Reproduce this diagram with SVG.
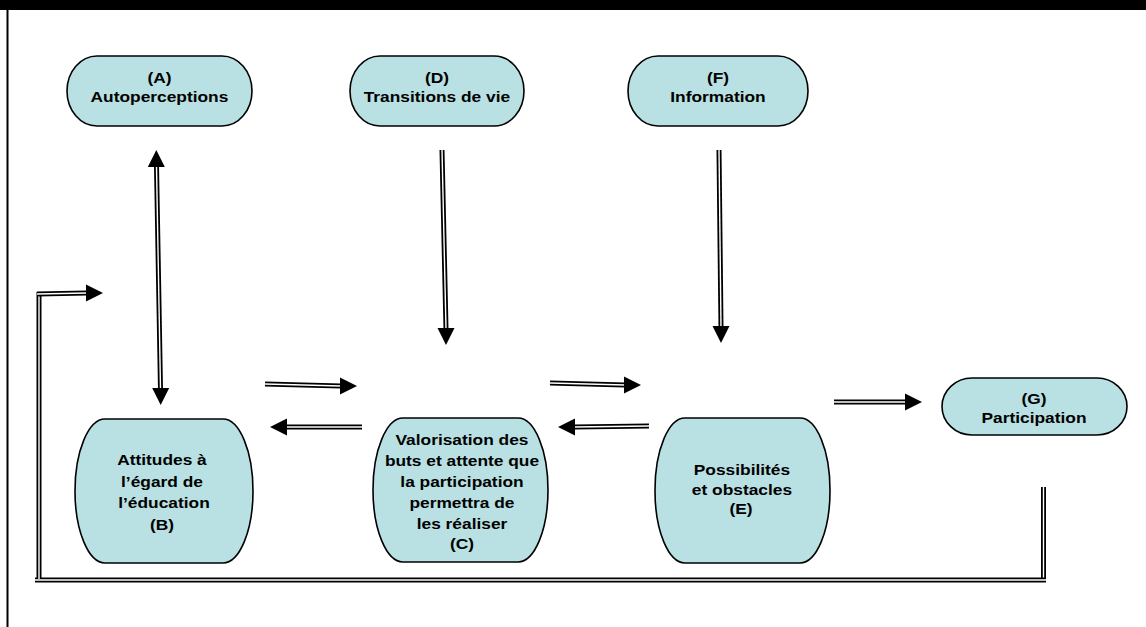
<svg xmlns="http://www.w3.org/2000/svg" xmlns:xlink="http://www.w3.org/1999/xlink" width="1146" height="627" viewBox="0 0 1146 627">
<style>
  .node { fill: #b9e0e3; stroke: #000; stroke-width: 1.6; }
  .t { font-family: "Liberation Sans", Arial, sans-serif; font-weight: bold; font-size: 14px; fill: #000; text-anchor: middle; transform-box: fill-box; transform-origin: center; transform: scaleX(1.24); }
  .outer { fill: none; stroke: #000; stroke-width: 5; }
  .inner { fill: none; stroke: #fff; stroke-width: 1.4; }
</style>
<defs>
  <path id="ah" d="M0,0 L-17,-8.5 L-17,8.5 Z" fill="#000"/>
</defs>
<rect x="0" y="0" width="1146" height="627" fill="#fff"/>
<rect id="topbar" x="0" y="0" width="1146" height="10" fill="#000"/>
<line x1="7.5" y1="10" x2="7.5" y2="627" stroke="#000" stroke-width="2"/>

<g id="connectors">
  <!-- A <-> B -->
  <line class="outer" x1="156.5" y1="166" x2="160.5" y2="389"/>
  <line class="inner" x1="156.5" y1="166" x2="160.5" y2="389"/>
  <use xlink:href="#ah" transform="translate(156.3,150) rotate(-90)"/>
  <use xlink:href="#ah" transform="translate(160.7,405) rotate(90)"/>
  <!-- D -> C -->
  <line class="outer" x1="442" y1="150" x2="446" y2="329"/>
  <line class="inner" x1="442" y1="150" x2="446" y2="329"/>
  <use xlink:href="#ah" transform="translate(446,345) rotate(90)"/>
  <!-- F -> E -->
  <line class="outer" x1="719" y1="150" x2="721" y2="327"/>
  <line class="inner" x1="719" y1="150" x2="721" y2="327"/>
  <use xlink:href="#ah" transform="translate(721,343) rotate(90)"/>
  <!-- B -> C -->
  <line class="outer" x1="265" y1="384" x2="341" y2="386"/>
  <line class="inner" x1="265" y1="384" x2="341" y2="386"/>
  <use xlink:href="#ah" transform="translate(357,386)"/>
  <!-- C -> B -->
  <line class="outer" x1="362" y1="427" x2="286" y2="427"/>
  <line class="inner" x1="362" y1="427" x2="286" y2="427"/>
  <use xlink:href="#ah" transform="translate(270,427) rotate(180)"/>
  <!-- C -> E -->
  <line class="outer" x1="550" y1="383" x2="625" y2="385"/>
  <line class="inner" x1="550" y1="383" x2="625" y2="385"/>
  <use xlink:href="#ah" transform="translate(641,385)"/>
  <!-- E -> C -->
  <line class="outer" x1="649" y1="426" x2="574" y2="427"/>
  <line class="inner" x1="649" y1="426" x2="574" y2="427"/>
  <use xlink:href="#ah" transform="translate(558,427) rotate(180)"/>
  <!-- E -> G -->
  <line class="outer" x1="834" y1="402" x2="906" y2="402"/>
  <line class="inner" x1="834" y1="402" x2="906" y2="402"/>
  <use xlink:href="#ah" transform="translate(922,402)"/>
  <!-- G feedback -> B -->
  <line class="outer" x1="1043.5" y1="487" x2="1043.5" y2="579"/>
  <line class="inner" x1="1043.5" y1="487" x2="1043.5" y2="579"/>
  <line class="outer" x1="35" y1="580" x2="1046" y2="580"/>
  <line class="inner" x1="35" y1="580" x2="1046" y2="580"/>
  <line class="outer" x1="39" y1="292" x2="39" y2="579"/>
  <line class="inner" x1="39" y1="292" x2="39" y2="579"/>
  <line class="outer" x1="37" y1="294" x2="87" y2="293"/>
  <line class="inner" x1="37" y1="294" x2="87" y2="293"/>
  <use xlink:href="#ah" transform="translate(103,293)"/>
</g>

<g id="nodeA">
  <rect class="node" x="67" y="56" width="185" height="70" rx="30" ry="35"/>
  <text class="t" x="159.5" y="83">(A)</text>
  <text class="t" x="159.5" y="102">Autoperceptions</text>
</g>
<g id="nodeD">
  <rect class="node" x="350" y="56" width="174" height="70" rx="30" ry="35"/>
  <text class="t" x="437" y="83">(D)</text>
  <text class="t" x="437" y="102">Transitions de vie</text>
</g>
<g id="nodeF">
  <rect class="node" x="628" y="56" width="180" height="70" rx="30" ry="35"/>
  <text class="t" x="718" y="83">(F)</text>
  <text class="t" x="718" y="102">Information</text>
</g>
<g id="nodeB">
  <rect class="node" x="75" y="419" width="178" height="144" rx="30" ry="72"/>
  <text class="t" x="162" y="465">Attitudes à</text>
  <text class="t" x="162" y="487">l’égard de</text>
  <text class="t" x="164" y="508">l’éducation</text>
  <text class="t" x="162" y="530">(B)</text>
</g>
<g id="nodeC">
  <rect class="node" x="373" y="418" width="175" height="144" rx="30" ry="72"/>
  <text class="t" x="462" y="445">Valorisation des</text>
  <text class="t" x="462" y="466">buts et attente que</text>
  <text class="t" x="462" y="487">la participation</text>
  <text class="t" x="462" y="508">permettra de</text>
  <text class="t" x="462" y="529">les réaliser</text>
  <text class="t" x="462" y="549">(C)</text>
</g>
<g id="nodeE">
  <rect class="node" x="655" y="418" width="175" height="145" rx="30" ry="72"/>
  <text class="t" x="742" y="475">Possibilités</text>
  <text class="t" x="742" y="495">et obstacles</text>
  <text class="t" x="741" y="514">(E)</text>
</g>
<g id="nodeG">
  <rect class="node" x="942" y="378" width="185" height="57" rx="30" ry="28.5"/>
  <text class="t" x="1034" y="404">(G)</text>
  <text class="t" x="1034" y="423">Participation</text>
</g>
</svg>
